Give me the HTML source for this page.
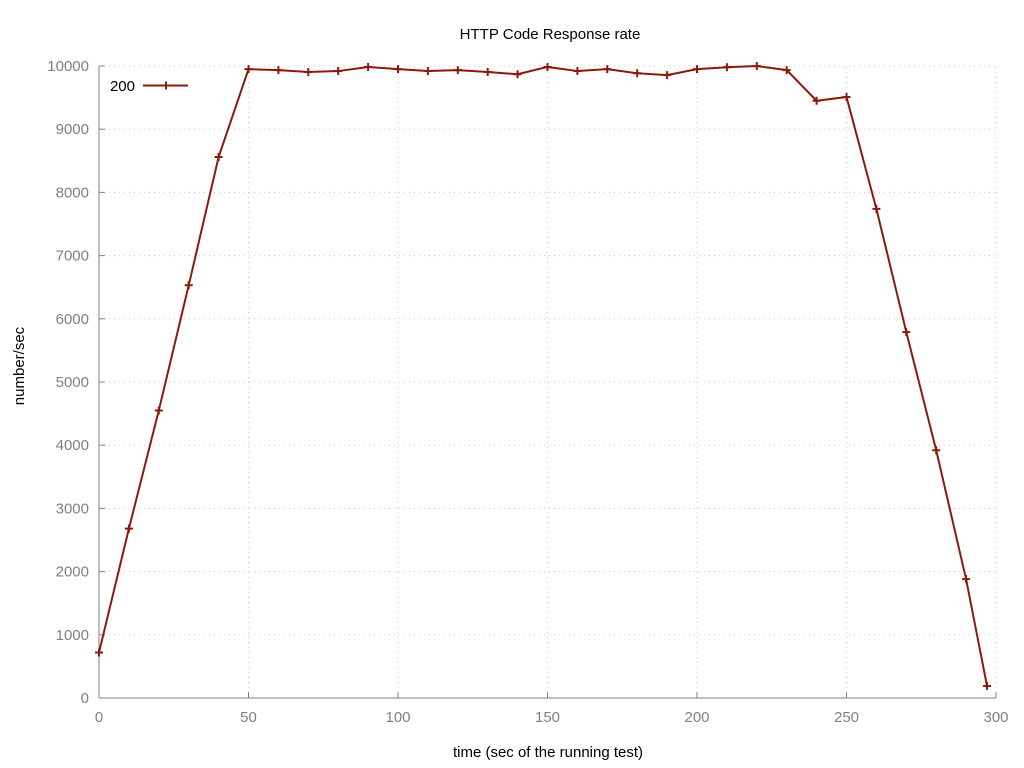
<!DOCTYPE html>
<html><head><meta charset="utf-8"><style>
html,body{margin:0;padding:0;background:#fff;}
svg{display:block;font-family:"Liberation Sans","DejaVu Sans",sans-serif;}
</style></head><body>
<svg id="chart" width="1024" height="768" xmlns="http://www.w3.org/2000/svg"></svg>
<script>
const xValues = [0,10,20,30,40,50,60,70,80,90,100,110,120,130,140,150,160,170,180,190,200,210,220,230,240,250,260,270,280,290,297];
const series200 = [720,2680,4550,6530,8560,9950,9935,9905,9920,9985,9950,9920,9935,9905,9870,9985,9920,9950,9885,9855,9950,9980,10000,9935,9450,9510,7740,5790,3920,1880,190];
const xTicks = [0,50,100,150,200,250,300];
const yTicks = [0,1000,2000,3000,4000,5000,6000,7000,8000,9000,10000];
const seriesName = "200";

const svg = document.getElementById('chart');
const NS = 'http://www.w3.org/2000/svg';
const X0=99, X1=996, Y0=698, Y1=66;
const xs = v => X0 + (v-0)/(300-0)*(X1-X0);
const ys = v => Y0 - (v-0)/(10000-0)*(Y0-Y1);
function mk(tag, attrs, parent){const e=document.createElementNS(NS,tag);for(const k in attrs)e.setAttribute(k,attrs[k]);(parent||svg).appendChild(e);return e;}

const grid = mk('g',{});


xTicks.forEach(t=>{ if(t>0) mk('line',{x1:xs(t),x2:xs(t),y1:Y0,y2:Y1,stroke:'#c8c8c8','stroke-dasharray':'1,4','stroke-width':1},grid); });
yTicks.forEach(t=>{ if(t>0) mk('line',{x1:X0,x2:X1,y1:ys(t),y2:ys(t),stroke:'#c8c8c8','stroke-dasharray':'1,4','stroke-width':1},grid); });

const axes = mk('g',{});


mk('line',{x1:X0,x2:X0,y1:Y0,y2:Y1,stroke:'#808080','stroke-width':1},axes);
mk('line',{x1:X0,x2:X1,y1:Y0,y2:Y0,stroke:'#808080','stroke-width':1},axes);

const xt = mk('g',{});


xTicks.forEach(t=>{
  mk('line',{x1:xs(t),x2:xs(t),y1:Y0,y2:Y0-6,stroke:'#808080'},xt);
  const tx=mk('text',{x:xs(t),y:Y0+24,'text-anchor':'middle','font-size':15,fill:'#808080'},xt);
  tx.textContent=t;
});
const yt = mk('g',{});


yTicks.forEach(t=>{
  mk('line',{x1:X0,x2:X0+6,y1:ys(t),y2:ys(t),stroke:'#808080'},yt);
  const tx=mk('text',{x:X0-10,y:ys(t)+5,'text-anchor':'end','font-size':15,fill:'#808080'},yt);
  tx.textContent=t;
});

const title=mk('text',{x:550,y:39,'text-anchor':'middle','font-size':15,fill:'#000'});


title.textContent='HTTP Code Response rate';
const xl=mk('text',{x:548,y:757,'text-anchor':'middle','font-size':15,fill:'#000'});


xl.textContent='time (sec of the running test)';
const yl=mk('text',{x:24,y:366,'text-anchor':'middle','font-size':15,fill:'#000',transform:'rotate(-90 24 366)'});


yl.textContent='number/sec';

const color='#8b1a0e';
const line=mk('polyline',{points:xValues.map((x,i)=>xs(x)+','+ys(series200[i])).join(' '),fill:'none',stroke:color,'stroke-width':2});


function plus(cx,cy,parent){mk('path',{d:`M${cx-4},${cy}H${cx+4}M${cx},${cy-4}V${cy+4}`,stroke:color,'stroke-width':2},parent);}
const pts=mk('g',{});


xValues.forEach((x,i)=>plus(xs(x),ys(series200[i]),pts));

const leg=mk('g',{});


const lt=mk('text',{x:135,y:91,'text-anchor':'end','font-size':15,fill:'#000'},leg);
lt.textContent=seriesName;
mk('line',{x1:143,x2:188,y1:85.5,y2:85.5,stroke:color,'stroke-width':2},leg);
plus(166,85.5,leg);
</script>
</body></html>
